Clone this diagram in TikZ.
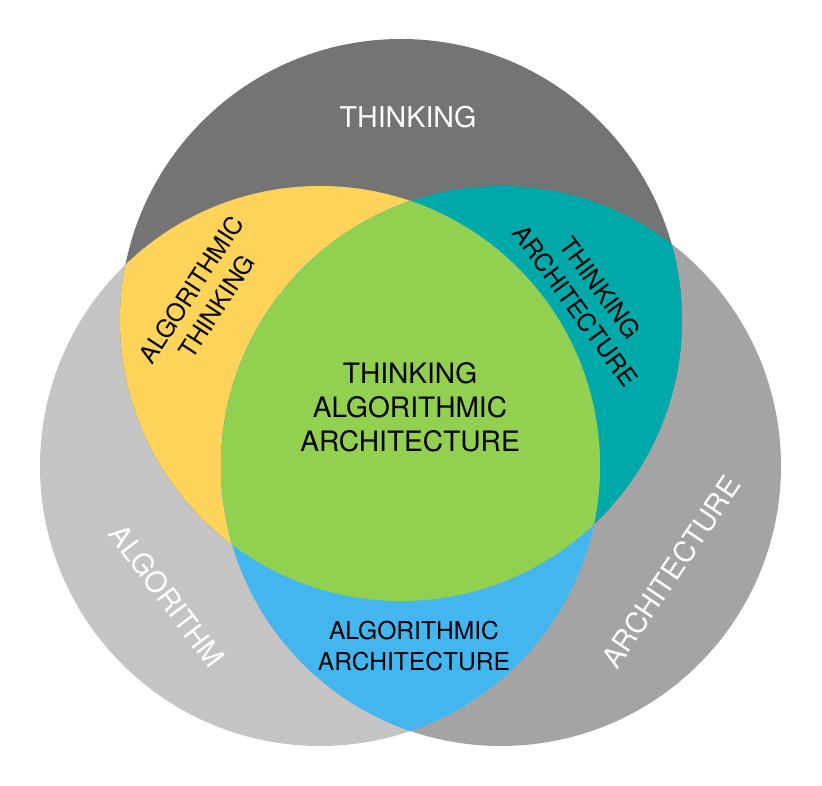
\documentclass[tikz,border=0pt]{standalone}
\usepackage{fontspec}
\setmainfont{TeX Gyre Heros}
\definecolor{thinkgray}{HTML}{747474}
\definecolor{algogray}{HTML}{C4C4C4}
\definecolor{archgray}{HTML}{A4A4A4}
\definecolor{algothink}{HTML}{FDD35A}
\definecolor{thinkarch}{HTML}{00A9A9}
\definecolor{algoarch}{HTML}{44B6EF}
\definecolor{allthree}{HTML}{92D050}
\def\thinkcircle{(401,320) circle (281)}
\def\algocircle{(320,466) circle (280)}
\def\archcircle{(501,466) circle (280)}
\tikzset{
  setlabel/.style={text=white, font=\fontsize{16.3}{19}\selectfont},
  pairlabel/.style={text=black, align=center, font=\fontsize{14}{17.5}\selectfont},
  corelabel/.style={text=black, align=center, font=\fontsize{16}{19.3}\selectfont}
}
\begin{document}
\begin{tikzpicture}[x=0.02cm,y=-0.02cm]
			%%%%% START %%%%%
			\useasboundingbox (0,0) rectangle (822,786);
			
			\fill[algogray] \algocircle;
			\fill[archgray] \archcircle;
			\fill[thinkgray] \thinkcircle;
			
			\begin{scope}
				\clip \thinkcircle;
				\fill[algothink] \algocircle;
				\fill[thinkarch] \archcircle;
			\end{scope}
			\begin{scope}
				\clip \algocircle;
				\fill[algoarch] \archcircle;
				\clip \archcircle;
				\fill[allthree] \thinkcircle;
			\end{scope}
			
			\node[setlabel] (thinking) at (408,117) {THINKING};
			\node[setlabel, rotate=-53] (algorithm) at (167,596) {ALGORITHM};
			\node[setlabel, rotate=56] (architecture) at (671,572) {ARCHITECTURE};
			
			\node[pairlabel, rotate=57] (algothinking) at (204,298) {ALGORITHMIC\\THINKING};
			\node[pairlabel, rotate=-54] (thinkarchitecture) at (588,297) {THINKING\\ARCHITECTURE};
			\node[pairlabel] (algoarchitecture) at (414,646) {ALGORITHMIC\\ARCHITECTURE};
			
			\node[corelabel] (core) at (410,407) {THINKING\\ALGORITHMIC\\ARCHITECTURE};
			
			%%%%% END %%%%%
\end{tikzpicture}
\end{document}
